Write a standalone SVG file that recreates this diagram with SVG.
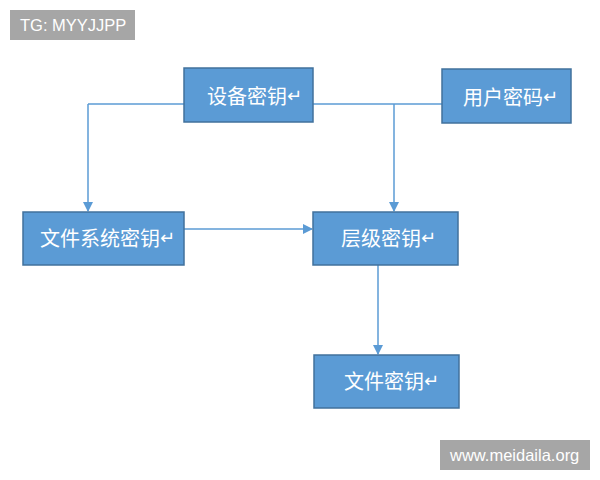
<svg xmlns="http://www.w3.org/2000/svg" width="600" height="480" viewBox="0 0 600 480">
<defs>
<style>
.box{fill:#5b9bd5;stroke:#41719c;stroke-width:1.5}
.lbl{fill:#fff;font-family:"Noto Sans CJK SC","Noto Sans",sans-serif;font-size:20px;dominant-baseline:central}
.ret{font-size:18px;font-family:"DejaVu Sans",sans-serif}
.wm{fill:#a6a6a6}
.wmt{fill:#fff;font-family:"Liberation Sans",Arial,sans-serif;font-size:16.5px;dominant-baseline:central}
.ln{fill:none;stroke:#5b9bd5;stroke-width:1.5}
</style>
<marker id="ah" markerWidth="10" markerHeight="10" refX="9" refY="5" orient="auto" markerUnits="userSpaceOnUse">
<path d="M0,0 L10,5 L0,10 Z" fill="#5b9bd5"/>
</marker>
</defs>
<rect width="600" height="480" fill="#fff"/>
<g id="tg"><rect class="wm" x="10" y="10" width="125" height="30"/><text class="wmt" x="20" y="25">TG: MYYJJPP</text></g>
<g id="site"><rect class="wm" x="440" y="440" width="150" height="30"/><text class="wmt" x="450" y="455">www.meidaila.org</text></g>
<g id="connectors">
<path class="ln" d="M88,104 H442"/>
<path class="ln" d="M88,104 V211" marker-end="url(#ah)"/>
<path class="ln" d="M394,104 V211" marker-end="url(#ah)"/>
<path class="ln" d="M184,229 H312" marker-end="url(#ah)"/>
<path class="ln" d="M378,265 V354" marker-end="url(#ah)"/>
</g>
<g id="device"><rect class="box" x="184" y="68" width="129" height="54"/><text class="lbl" x="207" y="95">设备密钥<tspan class="ret">↵</tspan></text></g>
<g id="user"><rect class="box" x="442" y="69" width="129" height="54"/><text class="lbl" x="463" y="96">用户密码<tspan class="ret">↵</tspan></text></g>
<g id="fs"><rect class="box" x="23" y="212" width="161" height="53"/><text class="lbl" x="40" y="237">文件系统密钥<tspan class="ret">↵</tspan></text></g>
<g id="level"><rect class="box" x="313" y="212" width="145" height="53"/><text class="lbl" x="341" y="237">层级密钥<tspan class="ret">↵</tspan></text></g>
<g id="file"><rect class="box" x="314" y="355" width="145" height="53"/><text class="lbl" x="344" y="380">文件密钥<tspan class="ret">↵</tspan></text></g>
</svg>
